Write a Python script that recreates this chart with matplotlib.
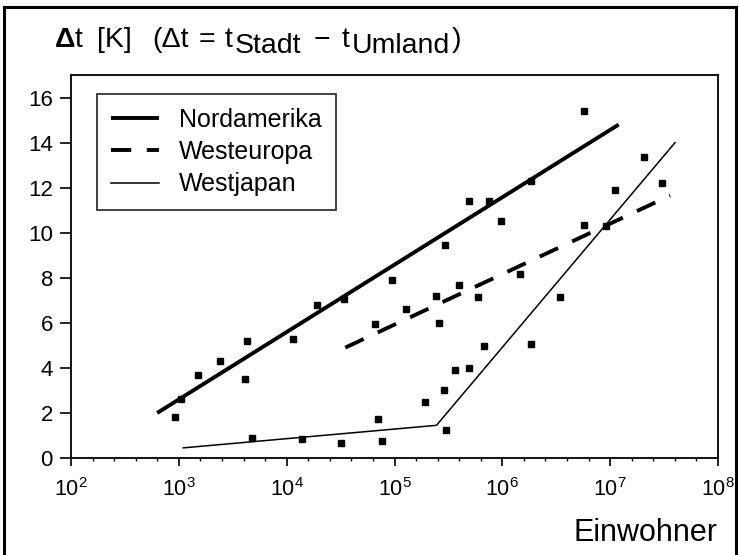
import numpy as np
import matplotlib
matplotlib.use("Agg")
import matplotlib.pyplot as plt
from matplotlib.lines import Line2D
from matplotlib.ticker import FixedLocator, FixedFormatter

plt.rcParams['font.family'] = ['Liberation Sans', 'DejaVu Sans']
plt.rcParams['mathtext.fontset'] = 'custom'
plt.rcParams['mathtext.rm'] = 'Liberation Sans'
plt.rcParams['mathtext.it'] = 'Liberation Sans:italic'
plt.rcParams['mathtext.bf'] = 'Liberation Sans:bold'

# Messpunkte: Einwohnerzahl und Temperaturdifferenz Stadt - Umland
einwohner = [9.3e2, 1.05e3, 1.5e3, 2.4e3, 4.3e3, 4.1e3, 4.8e3, 1.15e4, 1.9e4,
             3.4e4, 1.4e4, 3.2e4, 6.6e4, 7.1e4, 7.6e4, 9.5e4, 1.29e5, 2.45e5,
             2.57e5, 4.0e5, 6.0e5, 3.63e5, 4.9e5, 2.88e5, 1.9e5, 3.02e5, 2.95e5,
             4.9e5, 7.6e5, 9.8e5, 1.86e6, 5.75e6, 1.45e6, 3.4e6, 5.75e6, 9.1e6,
             1.1e7, 2.05e7, 3.0e7, 6.8e5, 1.86e6]
delta_t = [1.8, 2.6, 3.7, 4.3, 5.2, 3.5, 0.9, 5.3, 6.8,
           7.05, 0.85, 0.65, 5.95, 1.75, 0.75, 7.9, 6.6, 7.2,
           6.0, 7.7, 7.15, 3.9, 4.0, 3.0, 2.5, 1.25, 9.45,
           11.4, 11.4, 10.5, 12.3, 15.4, 8.15, 7.15, 10.35, 10.3,
           11.9, 13.35, 12.2, 4.95, 5.05]

# Regressionsgeraden
nordamerika_x = [6.3e2, 1.2e7]
nordamerika_y = [2.0, 14.8]
westeuropa_x = [3.5e4, 3.6e7]
westeuropa_y = [4.9, 11.65]
westjapan_x = [1.1e3, 2.45e5, 4.0e7]
westjapan_y = [0.45, 1.45, 14.0]

major_x = [1e2, 1e3, 1e4, 1e5, 1e6, 1e7, 1e8]
major_labels = [r'$10^{%d}$' % k for k in range(2, 9)]
y_ticks = [0, 2, 4, 6, 8, 10, 12, 14, 16]

W, H = 739, 555
fig = plt.figure(figsize=(W / 100, H / 100), dpi=100)
ax = fig.add_axes([71 / W, 1 - 458 / H, 647 / W, 383 / H])

ax.plot(nordamerika_x, nordamerika_y, color='black', lw=2.8,
        solid_capstyle='butt', label='Nordamerika')
ax.plot(westeuropa_x, westeuropa_y, color='black', lw=2.8,
        linestyle=(0, (5.2, 4.0)), dash_capstyle='butt', label='Westeuropa')
ax.plot(westjapan_x, westjapan_y, color='black', lw=1.1, label='Westjapan')
ax.plot(einwohner, delta_t, 's', color='black', ms=4, zorder=3)

ax.set_xscale('log')
ax.set_xlim(1e2, 1e8)
ax.set_ylim(0, 17)

ax.xaxis.set_major_locator(FixedLocator(major_x))
ax.xaxis.set_major_formatter(FixedFormatter(major_labels))
minor_x = [10 ** (k + 0.2 * j) for k in range(2, 8) for j in range(1, 5)]
ax.xaxis.set_minor_locator(FixedLocator(minor_x))
ax.xaxis.set_minor_formatter(FixedFormatter([''] * len(minor_x)))
ax.set_yticks(y_ticks)

ax.tick_params(axis='x', which='major', direction='out', length=5.5, width=1.2,
               pad=9, labelsize=15.5)
ax.tick_params(axis='x', which='minor', direction='out', length=2.5, width=1.0)
ax.tick_params(axis='y', direction='out', length=8, width=1.2, pad=5,
               labelsize=16)
for s in ax.spines.values():
    s.set_linewidth(1.3)

leg = ax.legend(loc='upper left', bbox_to_anchor=(0.04, 0.95), fontsize=18,
                frameon=True, fancybox=False, edgecolor='black',
                handlelength=1.95, handletextpad=0.8, labelspacing=0.33,
                borderpad=0.55, borderaxespad=0)
leg.get_frame().set_linewidth(1.3)

# Kopfzeile: Stuecke nacheinander gesetzt, Indizes in voller Groesse tiefergestellt
renderer = fig.canvas.get_renderer()
base, drop = 47, 6
pieces = [
    (r'$\mathbf{\Delta}$t', 0, 13),
    ('[K]', 0, 20),
    ('(Δt', 0, 10),
    ('=', 0, 10),
    ('t', 0, 2),
    ('Stadt', drop, 12),
    ('−', 0, 12),
    ('t', 0, 2),
    ('Umland', drop, 2),
    (')', 0, 0),
]
x = 54
for s, dy, gap in pieces:
    t = fig.text(x / W, 1 - (base + dy) / H, s, fontsize=20.5, ha='left',
                 va='baseline')
    x = t.get_window_extent(renderer).x1 + gap

fig.text(717 / W, 1 - 541 / H, 'Einwohner', fontsize=22, ha='right',
         va='baseline')

# Rahmen um die Abbildung (unten offen)
fx0, fx1, fy1 = 3.5 / W, 735.5 / W, 1 - 7 / H
for xs, ys in [([fx0, fx0], [0, fy1]), ([fx0, fx1], [fy1, fy1]), ([fx1, fx1], [fy1, 0])]:
    fig.add_artist(Line2D(xs, ys, transform=fig.transFigure, color='black', lw=2.2))

fig.savefig('out.png', dpi=100)
